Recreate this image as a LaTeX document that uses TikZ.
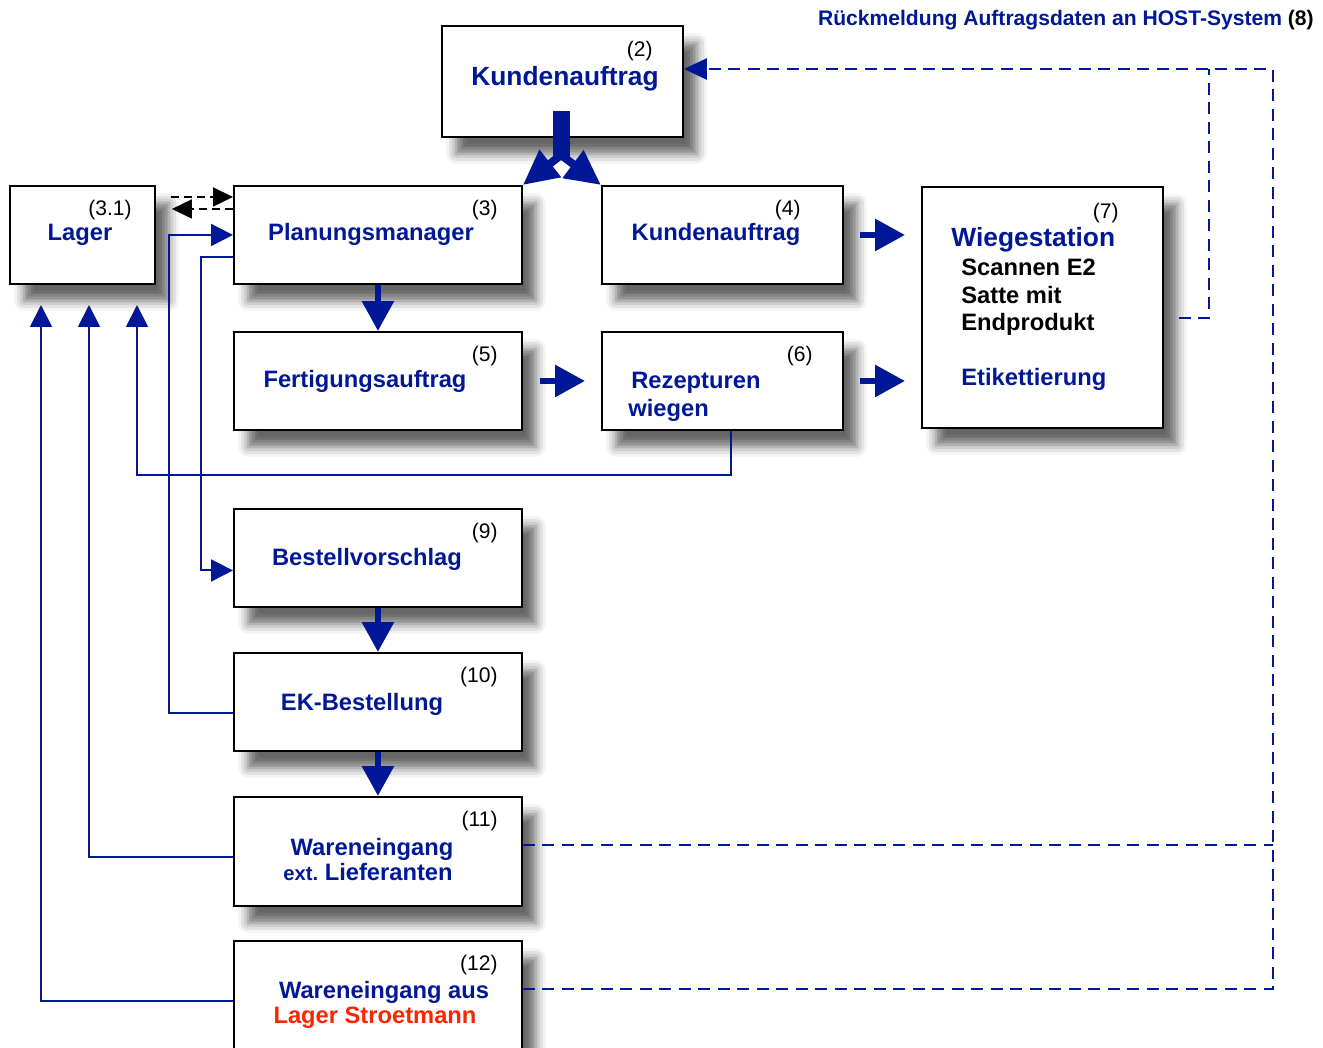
\documentclass[tikz,border=0pt]{standalone}
\usepackage{fontspec}
\setmainfont{Liberation Sans}
\usetikzlibrary{arrows.meta,shadows.blur}
\definecolor{navy}{RGB}{0,24,150}
\definecolor{stroet}{RGB}{255,36,0}

\begin{document}
\begin{tikzpicture}[x=0.02cm, y=-0.02cm,
        main box/.style={draw, line width=1.1pt, fill=white, anchor=north west, inner sep=0pt,
            blur shadow={shadow xshift=0.28cm, shadow yshift=-0.34cm, shadow blur radius=0.2cm, shadow opacity=60}},
        wide box/.style={main box, minimum width=5.76cm, minimum height=1.96cm},
        narrow box/.style={main box, minimum width=4.82cm, minimum height=1.96cm},
        num/.style={anchor=base east, inner sep=0pt, font=\fontsize{12}{14}\selectfont},
        main text/.style={anchor=base, inner sep=0pt, text=navy, font=\fontsize{13.5}{16}\selectfont\bfseries},
        big text/.style={main text, font=\fontsize{15}{18}\selectfont\bfseries},
        fat arrow/.style={draw=navy, line width=0.12cm, -{Triangle[length=0.6cm,width=0.62cm]}},
        fork arrow/.style={draw=navy, line width=0.16cm, -{Triangle[length=0.7cm,width=0.66cm]}},
        link/.style={draw=navy, line width=1.1pt, -{Triangle[length=0.44cm,width=0.44cm]}},
        dash link/.style={draw=black, line width=1pt, dash pattern=on 0.16cm off 0.1cm, -{Triangle[length=0.4cm,width=0.38cm]}},
        host link/.style={draw=navy, line width=1.4pt, dash pattern=on 0.24cm off 0.15cm}]
    \useasboundingbox (0,0) rectangle (1323,1048);

    % boxes
    \node[main box, minimum width=4.82cm, minimum height=2.22cm] (k2) at (441,25) {};
    \node[main box, minimum width=2.9cm, minimum height=1.96cm] (lager) at (9,185) {};
    \node[wide box] (p3) at (233,185) {};
    \node[narrow box] (k4) at (601,185) {};
    \node[main box, minimum width=4.82cm, minimum height=4.82cm] (w7) at (921,186) {};
    \node[wide box] (f5) at (233,331) {};
    \node[narrow box] (r6) at (601,331) {};
    \node[wide box] (b9) at (233,508) {};
    \node[wide box] (e10) at (233,652) {};
    \node[main box, minimum width=5.76cm, minimum height=2.18cm] (w11) at (233,796) {};
    \node[main box, minimum width=5.76cm, minimum height=2.4cm] (w12) at (233,940) {};

    % texts
    \node[main text, anchor=base east, font=\fontsize{12}{14}\selectfont\bfseries] (hosttitle) at (1314,26)
        {R\"uckmeldung Auftragsdaten an HOST-System \textcolor{black}{(8)}};
    \node[num] (k2n) at (653,56) {(2)};
    \node[big text] (k2t) at (565,85) {Kundenauftrag};
    \node[num] (lagern) at (132,215) {(3.1)};
    \node[main text] (lagert) at (80,240) {Lager};
    \node[num] (p3n) at (498,215) {(3)};
    \node[main text] (p3t) at (371,240) {Planungsmanager};
    \node[num] (k4n) at (801,215) {(4)};
    \node[main text] (k4t) at (716,240) {Kundenauftrag};
    \node[num] (w7n) at (1119,218) {(7)};
    \node[big text, anchor=base west] (w7t) at (951,246) {Wiegestation};
    \node[main text, anchor=base west, text=black] (w7a) at (961,275) {Scannen E2};
    \node[main text, anchor=base west, text=black] (w7b) at (961,303) {Satte mit};
    \node[main text, anchor=base west, text=black] (w7c) at (961,330) {Endprodukt};
    \node[main text, anchor=base west] (w7d) at (961,385) {Etikettierung};
    \node[num] (f5n) at (498,361) {(5)};
    \node[main text] (f5t) at (365,387) {Fertigungsauftrag};
    \node[num] (r6n) at (813,361) {(6)};
    \node[main text, anchor=base west] (r6a) at (631,388) {Rezepturen};
    \node[main text, anchor=base west] (r6b) at (628,416) {wiegen};
    \node[num] (b9n) at (498,538) {(9)};
    \node[main text] (b9t) at (367,565) {Bestellvorschlag};
    \node[num] (e10n) at (498,682) {(10)};
    \node[main text] (e10t) at (362,710) {EK-Bestellung};
    \node[num] (w11n) at (498,826) {(11)};
    \node[main text] (w11a) at (372,855) {Wareneingang};
    \node[main text] (w11b) at (368,880) {{\fontsize{11.5}{13}\selectfont ext.}\ Lieferanten};
    \node[num] (w12n) at (498,970) {(12)};
    \node[main text] (w12a) at (384,998) {Wareneingang aus};
    \node[main text, text=stroet] (w12b) at (375,1023) {Lager Stroetmann};

    % block arrows
    \draw[draw=navy, line width=0.34cm] (561,111) -- (561,160);
    \draw[fork arrow] (561,155) -- (p3.north east);
    \draw[fork arrow] (561,155) -- (k4.north west);
    \draw[fat arrow] (p3) -- (f5);
    \draw[fat arrow, shorten <=0.34cm, shorten >=0.32cm] (f5) -- (r6);
    \draw[fat arrow, shorten <=0.32cm, shorten >=0.32cm] (k4.east) -- (k4.east -| w7.west);
    \draw[fat arrow, shorten <=0.32cm, shorten >=0.32cm] (r6.east) -- (r6.east -| w7.west);
    \draw[fat arrow] (b9) -- (e10);
    \draw[fat arrow] (e10) -- (w11);

    % links to Lager and Planung
    \coordinate (in1) at (41,305);
    \coordinate (in2) at (89,305);
    \coordinate (in3) at (137,305);
    \draw[link] ([xshift=0.17cm]r6.south) -- ++(0,44) -| (in3);
    \draw[link] (w12.west) -| (in1);
    \draw[link] ([yshift=-0.11cm]w11.west) -| (in2);
    \draw[link] ([yshift=-0.23cm]e10.west) -- ++(-64,0) |- (p3.west);
    \draw[link] ([yshift=-0.44cm]p3.west) -- ++(-32,0) |- ([yshift=-0.25cm]b9.west);
    \draw[dash link] ([xshift=0.3cm,yshift=0.76cm]lager.east) -- ([yshift=0.76cm]p3.west);
    \draw[dash link] ([yshift=0.52cm]p3.west) -- ([xshift=0.32cm,yshift=0.52cm]lager.east);

    % host feedback
    \coordinate (hostcorner) at (1273,69);
    \coordinate (hostjoin) at (1209,69);
    \draw[host link] ([xshift=0.3cm,yshift=-0.21cm]w7.east) -| (hostjoin);
    \draw[host link, -{Triangle[length=0.46cm,width=0.42cm]}] ([yshift=0.24cm]w12.east) -| (hostcorner) -- (k2.east |- hostcorner);
    \draw[host link] ([yshift=0.13cm]w11.east) -- ([yshift=0.13cm]w11.east -| hostcorner);
\end{tikzpicture}
\end{document}
